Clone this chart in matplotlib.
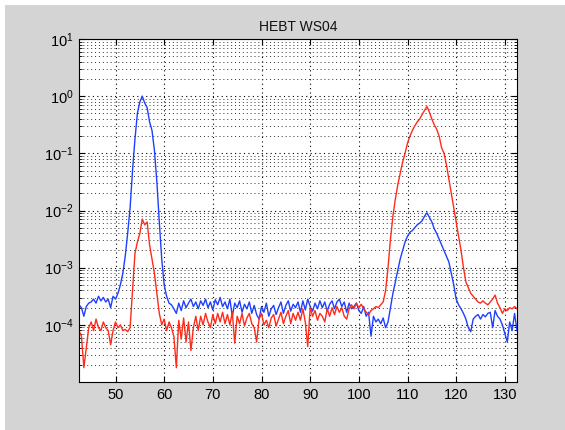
import numpy as np
import matplotlib
matplotlib.use("Agg")
import matplotlib.pyplot as plt
from matplotlib.ticker import FixedLocator, LogLocator, NullFormatter

plt.rcParams['font.family'] = ['Liberation Sans', 'DejaVu Sans']
plt.rcParams['mathtext.fontset'] = 'custom'
plt.rcParams['mathtext.rm'] = 'Liberation Sans'
plt.rcParams['mathtext.it'] = 'Liberation Sans'

title = "HEBT WS04"
x_start, x_step = 42.5, 0.5

# log10 of signal, one value per 0.5 unit from 42.5 to 132.5
blue_log10 = [
    -3.65, -3.70, -3.85, -3.68, -3.62, -3.60, -3.55, -3.62, -3.50, -3.58,
    -3.52, -3.60, -3.55, -3.70, -3.50, -3.55, -3.45, -3.30, -3.10, -2.80,
    -2.40, -1.95, -1.30, -0.75, -0.30, -0.10, 0.00, -0.12, -0.20, -0.45,
    -0.60, -0.95, -1.50, -2.20, -2.85, -3.30, -3.50, -3.62, -3.65, -3.72,
    -3.80, -3.62, -3.75, -3.58, -3.70, -3.62, -3.55, -3.68, -3.60, -3.72,
    -3.58, -3.66, -3.55, -3.70, -3.60, -3.74, -3.56, -3.65, -3.52, -3.68,
    -3.60, -3.72, -3.55, -3.85, -3.62, -3.70, -3.58, -3.78, -3.64, -3.72,
    -3.60, -3.80, -3.66, -3.82, -3.90, -3.68, -3.78, -3.62, -3.85, -3.72,
    -3.66, -3.82, -3.70, -3.60, -3.80, -3.66, -3.58, -3.76, -3.64, -3.70,
    -3.60, -3.78, -3.58, -3.74, -3.55, -3.68, -3.76, -3.62, -3.72, -3.58,
    -3.70, -3.60, -3.76, -3.64, -3.58, -3.72, -3.60, -3.55, -3.68, -3.60,
    -3.78, -3.62, -3.72, -3.68, -3.62, -3.75, -3.80, -3.68, -3.85, -3.78,
    -4.20, -3.85, -3.95, -3.90, -3.98, -3.88, -4.05, -3.95, -3.70, -3.45,
    -3.25, -3.05, -2.85, -2.70, -2.55, -2.45, -2.38, -2.35, -2.30, -2.25,
    -2.22, -2.18, -2.10, -2.04, -2.12, -2.20, -2.32, -2.40, -2.50, -2.60,
    -2.70, -2.80, -2.90, -3.10, -3.30, -3.55, -3.65, -3.72, -3.80, -3.90,
    -4.05, -4.12, -3.90, -3.85, -3.82, -3.90, -3.82, -3.86, -3.80, -3.78,
    -4.05, -3.75, -3.85, -3.90, -4.00, -4.15, -4.30, -3.95, -4.10, -3.80,
    -4.10,
]

red_log10 = [
    -4.10, -4.20, -4.75, -4.40, -4.05, -3.95, -4.10, -3.90, -4.05, -4.10,
    -3.95, -4.05, -4.10, -4.35, -4.10, -3.95, -4.05, -4.00, -4.10, -4.08,
    -4.12, -4.05, -3.40, -2.75, -2.55, -2.40, -2.15, -2.25, -2.20, -2.60,
    -2.85, -3.10, -3.45, -3.80, -4.00, -3.90, -4.10, -3.95, -4.05, -4.20,
    -4.75, -3.92, -4.25, -3.88, -4.30, -3.95, -4.45, -4.05, -3.85, -4.10,
    -3.85, -4.00, -3.80, -3.95, -4.05, -3.82, -3.98, -3.80, -3.95, -3.78,
    -3.98, -3.82, -4.00, -3.78, -4.32, -3.85, -3.98, -3.80, -4.02, -3.88,
    -3.80, -3.98, -4.05, -4.30, -3.90, -3.80, -4.00, -3.92, -4.05, -3.88,
    -3.82, -4.02, -3.90, -3.78, -3.98, -3.85, -3.75, -3.98, -3.80, -3.92,
    -3.78, -3.92, -3.72, -3.95, -4.38, -3.70, -3.85, -3.75, -3.92, -3.80,
    -3.85, -3.95, -3.72, -3.85, -3.70, -3.82, -3.68, -3.78, -3.70, -3.85,
    -3.90, -3.72, -3.65, -3.72, -3.62, -3.70, -3.64, -3.72, -3.78, -3.82,
    -3.75, -3.72, -3.68, -3.70, -3.65, -3.60, -3.40, -3.00, -2.50, -2.10,
    -1.80, -1.55, -1.35, -1.15, -1.00, -0.82, -0.70, -0.60, -0.52, -0.45,
    -0.40, -0.32, -0.25, -0.18, -0.28, -0.40, -0.50, -0.58, -0.70, -0.90,
    -1.00, -1.20, -1.45, -1.70, -1.95, -2.20, -2.45, -2.70, -3.00, -3.25,
    -3.35, -3.45, -3.50, -3.55, -3.60, -3.62, -3.58, -3.62, -3.65, -3.60,
    -3.55, -3.48, -3.62, -3.70, -3.80, -3.72, -3.75, -3.70, -3.72, -3.68,
    -3.72,
]

x_ticks = [50, 60, 70, 80, 90, 100, 110, 120, 130]
y_ticks = [1e-4, 1e-3, 1e-2, 1e-1, 1e0, 1e1]
y_tick_labels = [r'$\mathregular{10^{-4}}$', r'$\mathregular{10^{-3}}$', r'$\mathregular{10^{-2}}$',
                 r'$\mathregular{10^{-1}}$', r'$\mathregular{10^{0}}$', r'$\mathregular{10^{1}}$']

x = x_start + x_step * np.arange(len(blue_log10))
blue = 10.0 ** np.array(blue_log10)
red = 10.0 ** np.array(red_log10)

fig = plt.figure(figsize=(5.65, 4.30), dpi=100, facecolor='white')
# gray figure panel (MATLAB style)
bg = plt.Rectangle((5 / 565, 0), 1 - 5 / 565, 1 - 5 / 430, transform=fig.transFigure,
                   facecolor='#d4d4d4', edgecolor='none', zorder=-10)
fig.patches.append(bg)

ax = fig.add_axes([79 / 565, (430 - 382) / 430, (517 - 79) / 565, (382 - 39) / 430])
ax.set_facecolor('white')
ax.plot(x, blue, color='#1f3fff', lw=1.0)
ax.plot(x, red, color='#ff2a1a', lw=1.0)

ax.set_yscale('log')
ax.set_xlim(42.5, 132.5)
ax.set_ylim(1e-5, 10)
ax.set_xticks(x_ticks)
ax.set_xticklabels([str(t) for t in x_ticks])
ax.yaxis.set_major_locator(FixedLocator(y_ticks))
ax.set_yticklabels(y_tick_labels)
ax.yaxis.set_minor_locator(LogLocator(base=10, subs=np.arange(2, 10)))
ax.yaxis.set_minor_formatter(NullFormatter())

dot = (0, (1, 3))
ax.grid(True, which='major', axis='both', color='black', linestyle=dot, lw=0.8)
ax.grid(True, which='minor', axis='y', color='#333333', linestyle=dot, lw=0.7)

ax.tick_params(which='both', direction='in', top=True, right=True, labelsize=10.5,
               colors='black', pad=4)
ax.tick_params(which='major', length=4)
ax.tick_params(which='minor', length=2)
for s in ax.spines.values():
    s.set_color('black')
    s.set_linewidth(0.8)

ax.set_title(title, fontsize=10, pad=6, color='#111111')

fig.savefig('out.png', dpi=100, facecolor=fig.get_facecolor())
